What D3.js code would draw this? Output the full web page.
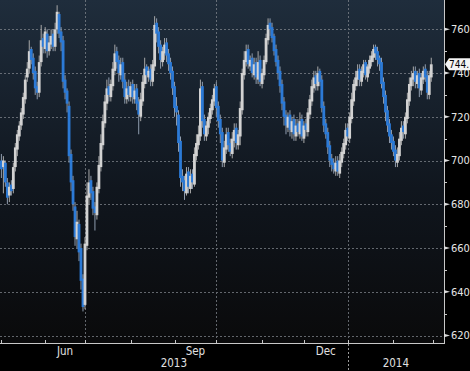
<!DOCTYPE html>
<html>
<head>
<meta charset="utf-8">
<script src="https://cdn.jsdelivr.net/npm/d3@7"></script>
<style>
  html, body { margin: 0; padding: 0; background: #000; }
  svg { display: block; }
  text { font-family: 'Liberation Sans Narrow', 'DejaVu Sans Condensed', 'Arial Narrow', sans-serif; }
</style>
</head>
<body>
<script>
// daily OHLC, one value per trading day (May 2 2013 .. Feb 28 2014)
var opens = [
  700, 697, 699, 690, 684, 689, 687, 697, 705, 711,
  716, 721, 728, 738, 742, 751, 747, 741, 734, 731,
  745, 756, 751, 758, 750, 753, 758, 752, 760, 767,
  759, 755, 737, 732, 725, 703, 691, 679, 664, 671,
  660, 646, 634, 661, 683, 691, 686, 679, 675, 687,
  697, 707, 717, 726, 734, 729, 734, 741, 750, 746,
  739, 745, 737, 728, 734, 729, 735, 728, 733, 727,
  720, 727, 735, 743, 738, 742, 736, 743, 763, 759,
  753, 745, 749, 754, 749, 745, 741, 734, 725, 721,
  709, 693, 691, 685, 695, 687, 694, 689, 702, 707,
  711, 734, 719, 711, 715, 719, 723, 727, 734, 725,
  719, 713, 699, 705, 713, 708, 703, 709, 715, 707,
  711, 723, 739, 745, 751, 743, 747, 739, 745, 737,
  746, 735, 739, 745, 755, 763, 761, 757, 751, 746,
  741, 735, 727, 721, 715, 721, 713, 719, 711, 717,
  712, 719, 710, 717, 713, 721, 727, 733, 739, 734,
  741, 737, 725, 717, 713, 707, 701, 699, 695, 700,
  694, 699, 703, 707, 715, 710, 719, 727, 734, 737,
  742, 736, 740, 745, 738, 742, 745, 747, 752, 750,
  747, 745, 736, 730, 723, 717, 712, 709, 705, 699,
  702, 709, 716, 712, 719, 727, 734, 737, 741, 735,
  740, 732, 737, 742, 739, 730, 738
];
var highs = [
  703, 702, 700, 692, 690, 691, 699, 708, 714, 718,
  724, 731, 739, 745, 755, 752, 749, 743, 736, 748,
  762, 758, 761, 760, 757, 760, 760, 763, 771, 768,
  761, 757, 739, 733, 727, 705, 693, 681, 677, 673,
  662, 648, 665, 690, 696, 693, 688, 681, 690, 702,
  712, 721, 730, 737, 738, 737, 745, 753, 752, 748,
  747, 747, 740, 736, 737, 736, 737, 735, 735, 729,
  731, 739, 747, 744, 743, 744, 746, 766, 765, 761,
  755, 752, 756, 756, 751, 747, 743, 736, 729, 723,
  711, 696, 693, 697, 697, 696, 696, 706, 712, 716,
  737, 736, 721, 718, 722, 726, 730, 735, 736, 727,
  721, 715, 709, 715, 715, 710, 713, 717, 717, 714,
  727, 742, 750, 753, 753, 748, 749, 747, 747, 750,
  748, 742, 748, 758, 765, 765, 763, 758, 753, 748,
  743, 737, 729, 723, 722, 723, 720, 721, 719, 719,
  722, 721, 718, 719, 724, 730, 737, 741, 741, 743,
  742, 739, 727, 719, 715, 709, 703, 701, 702, 702,
  703, 706, 710, 717, 717, 722, 731, 737, 741, 744,
  744, 743, 746, 746, 744, 748, 750, 753, 753, 752,
  748, 747, 738, 732, 725, 719, 714, 711, 707, 706,
  713, 718, 718, 722, 731, 738, 741, 743, 743, 741,
  742, 740, 743, 744, 741, 741, 747
];
var lows = [
  692, 685, 688, 680, 681, 684, 685, 695, 702, 709,
  714, 719, 726, 736, 740, 744, 737, 730, 728, 729,
  743, 749, 749, 747, 748, 751, 750, 750, 758, 756,
  750, 733, 728, 722, 699, 686, 677, 661, 660, 654,
  641, 631, 632, 659, 680, 682, 675, 668, 673, 685,
  695, 705, 715, 723, 727, 727, 732, 739, 742, 736,
  737, 733, 726, 726, 727, 727, 726, 726, 723, 712,
  718, 725, 733, 735, 736, 734, 734, 741, 754, 749,
  742, 743, 746, 745, 741, 737, 730, 720, 716, 704,
  688, 686, 682, 684, 685, 685, 687, 688, 700, 705,
  709, 715, 709, 709, 712, 717, 721, 725, 720, 715,
  708, 697, 697, 703, 704, 702, 701, 706, 705, 705,
  707, 721, 737, 743, 742, 741, 738, 737, 735, 735,
  734, 733, 737, 744, 753, 757, 754, 748, 743, 737,
  731, 723, 716, 712, 713, 711, 710, 709, 709, 711,
  710, 709, 708, 711, 711, 719, 725, 731, 732, 732,
  734, 722, 713, 710, 703, 697, 695, 694, 693, 693,
  692, 697, 701, 705, 709, 708, 717, 725, 732, 734,
  734, 734, 738, 737, 736, 740, 743, 745, 746, 743,
  741, 733, 726, 718, 713, 708, 705, 702, 697, 697,
  700, 707, 710, 710, 717, 725, 732, 734, 733, 733,
  729, 730, 735, 736, 728, 728, 736
];
var closes = [
  696, 700, 690, 683, 688, 686, 697, 706, 712, 716,
  722, 729, 737, 742, 750, 746, 740, 733, 731, 745,
  755, 752, 759, 750, 754, 757, 752, 760, 768, 758,
  754, 736, 731, 726, 702, 690, 680, 665, 672, 658,
  645, 633, 662, 684, 690, 685, 678, 676, 688, 698,
  708, 718, 727, 733, 730, 735, 742, 749, 745, 740,
  744, 736, 729, 733, 730, 734, 729, 732, 726, 721,
  728, 736, 742, 739, 741, 737, 744, 762, 758, 752,
  746, 750, 753, 748, 744, 740, 733, 724, 722, 708,
  692, 690, 686, 694, 688, 693, 690, 703, 708, 712,
  733, 718, 712, 716, 720, 724, 728, 733, 724, 718,
  712, 700, 706, 712, 707, 704, 710, 714, 708, 712,
  724, 740, 746, 750, 744, 746, 740, 744, 738, 745,
  736, 740, 746, 756, 762, 760, 756, 750, 745, 740,
  734, 726, 720, 716, 720, 714, 718, 712, 716, 713,
  718, 711, 716, 714, 722, 728, 734, 738, 735, 740,
  736, 724, 716, 712, 706, 700, 698, 696, 699, 695,
  700, 704, 708, 714, 711, 720, 728, 735, 738, 741,
  737, 741, 744, 739, 743, 746, 748, 751, 749, 746,
  744, 735, 729, 722, 716, 711, 708, 704, 700, 703,
  710, 715, 713, 720, 728, 735, 738, 740, 736, 739,
  733, 738, 741, 738, 731, 739, 744
];
var yTicks = [620, 640, 660, 680, 700, 720, 740, 760];
var monthLabels = ['Jun', 'Sep', 'Dec'];
var yearLabels = ['2013', '2014'];

var width = 470;
var height = 371;
var plotW = 444;
var plotH = 343;

// trading days, weekdays only
var days = d3.timeDay.range(new Date(2013, 4, 2), new Date(2014, 2, 1))
    .filter(function (d) { return d.getDay() !== 0 && d.getDay() !== 6; });

var x = d3.scaleLinear().domain([-0.7, 222.4]).range([0, plotW]);
var y = d3.scaleLinear().domain([620, 760]).range([335.5, 29.3]);

// first trading day of each month
var monthStarts = [];
days.forEach(function (d, i) {
  if (i === 0 || d.getMonth() !== days[i - 1].getMonth()) {
    monthStarts.push({i: i, date: d});
  }
});
monthStarts.push({i: days.length, date: new Date(2014, 2, 3)});

var svg = d3.select('body').append('svg')
    .attr('width', width)
    .attr('height', height);

var defs = svg.append('defs');
var grad = defs.append('linearGradient')
    .attr('id', 'bg')
    .attr('x1', 0).attr('y1', 0).attr('x2', 0).attr('y2', 1);
grad.append('stop').attr('offset', '0%').attr('stop-color', '#1f2d3c');
grad.append('stop').attr('offset', '55%').attr('stop-color', '#10161e');
grad.append('stop').attr('offset', '100%').attr('stop-color', '#0a0a0b');

svg.append('rect')
    .attr('width', width)
    .attr('height', height)
    .attr('fill', '#000');

svg.append('rect')
    .attr('width', plotW)
    .attr('height', plotH)
    .attr('fill', 'url(#bg)');

// grid
var grid = svg.append('g')
    .attr('stroke', '#80858c')
    .attr('stroke-width', 1)
    .attr('stroke-dasharray', '2,2')
    .attr('opacity', 0.75);

grid.selectAll('line.h')
    .data(yTicks)
    .enter().append('line')
    .attr('x1', 0)
    .attr('x2', plotW)
    .attr('y1', function (d) { return Math.round(y(d)) + 0.5; })
    .attr('y2', function (d) { return Math.round(y(d)) + 0.5; });

var quarterStarts = monthStarts.filter(function (m) { return m.date.getMonth() % 3 === 0 && m.i > 0; });
grid.selectAll('line.v')
    .data(quarterStarts)
    .enter().append('line')
    .attr('x1', function (d) { return Math.round(x(d.i)) + 0.5; })
    .attr('x2', function (d) { return Math.round(x(d.i)) + 0.5; })
    .attr('y1', 0)
    .attr('y2', plotH);

// candles
var candles = svg.append('g')
    .selectAll('g')
    .data(days)
    .enter().append('g');

candles.append('line')
    .attr('x1', function (d, i) { return x(i); })
    .attr('x2', function (d, i) { return x(i); })
    .attr('y1', function (d, i) { return y(highs[i]); })
    .attr('y2', function (d, i) { return y(lows[i]); })
    .attr('stroke', function (d, i) { return closes[i] >= opens[i] ? '#a8a8a8' : '#8f9cae'; })
    .attr('stroke-width', 1);

candles.append('rect')
    .attr('x', function (d, i) { return x(i) - 1.4; })
    .attr('width', 2.8)
    .attr('y', function (d, i) { return y(Math.max(opens[i], closes[i])); })
    .attr('height', function (d, i) { return Math.max(1, Math.abs(y(opens[i]) - y(closes[i]))); })
    .attr('fill', function (d, i) { return closes[i] >= opens[i] ? '#d2d2d2' : '#2c7ad6'; });

// axes
svg.append('line')
    .attr('x1', plotW + 0.5).attr('x2', plotW + 0.5)
    .attr('y1', 0).attr('y2', plotH + 1)
    .attr('stroke', '#c8c8c8');

svg.append('line')
    .attr('x1', 0).attr('x2', plotW + 1)
    .attr('y1', plotH + 0.5).attr('y2', plotH + 0.5)
    .attr('stroke', '#c8c8c8');

// right axis ticks
var minorTicks = d3.range(630, 770, 20);
svg.append('g').selectAll('line')
    .data(minorTicks)
    .enter().append('line')
    .attr('x1', plotW)
    .attr('x2', plotW + 3)
    .attr('y1', function (d) { return Math.round(y(d)) + 0.5; })
    .attr('y2', function (d) { return Math.round(y(d)) + 0.5; })
    .attr('stroke', '#c8c8c8');

var yAxis = svg.append('g').selectAll('g')
    .data(yTicks)
    .enter().append('g')
    .attr('transform', function (d) { return 'translate(' + plotW + ',' + y(d) + ')'; });

yAxis.append('path')
    .attr('d', 'M0,-1.8L6,0L0,1.8Z')
    .attr('fill', '#dcdcdc');

yAxis.append('text')
    .attr('x', 7)
    .attr('dy', '0.36em')
    .attr('fill', '#e6e6e6')
    .attr('font-size', 11)
    .text(function (d) { return d; });

// bottom axis ticks
svg.append('g').selectAll('line')
    .data(monthStarts)
    .enter().append('line')
    .attr('x1', function (d) { return Math.round(x(d.i)) + 0.5; })
    .attr('x2', function (d) { return Math.round(x(d.i)) + 0.5; })
    .attr('y1', plotH - 3)
    .attr('y2', plotH)
    .attr('stroke', '#c8c8c8');

var fmtMonth = d3.timeFormat('%b');
var labelled = [];
monthStarts.forEach(function (m, k) {
  if (k < monthStarts.length - 1 && monthLabels.indexOf(fmtMonth(m.date)) >= 0) {
    labelled.push({name: fmtMonth(m.date), mid: (x(m.i) + x(monthStarts[k + 1].i)) / 2});
  }
});

svg.append('g').selectAll('text')
    .data(labelled)
    .enter().append('text')
    .attr('x', function (d) { return d.mid; })
    .attr('y', 355)
    .attr('text-anchor', 'middle')
    .attr('fill', '#e0e0e0')
    .attr('font-size', 11.5)
    .text(function (d) { return d.name; });

// year row
var janStart = monthStarts.filter(function (m) { return m.date.getMonth() === 0; })[0];
var yearSpans = [[0, x(janStart.i)], [x(janStart.i), plotW]];

svg.append('line')
    .attr('x1', Math.round(x(janStart.i)) + 0.5)
    .attr('x2', Math.round(x(janStart.i)) + 0.5)
    .attr('y1', plotH + 1)
    .attr('y2', height)
    .attr('stroke', '#9a9a9a')
    .attr('stroke-dasharray', '2,2');

svg.append('g').selectAll('text')
    .data(yearLabels)
    .enter().append('text')
    .attr('x', function (d, i) { return (yearSpans[i][0] + yearSpans[i][1]) / 2; })
    .attr('y', 367)
    .attr('text-anchor', 'middle')
    .attr('fill', '#e0e0e0')
    .attr('font-size', 11.5)
    .text(function (d) { return d; });

// last price tag
var last = closes[closes.length - 1];
var tag = svg.append('g')
    .attr('transform', 'translate(' + (plotW + 1) + ',' + y(last) + ')');

tag.append('path')
    .attr('d', 'M0,0L4,-6H30V6H4Z')
    .attr('fill', '#f4f4f4');

tag.append('text')
    .attr('x', 4)
    .attr('dy', '0.36em')
    .attr('fill', '#000')
    .attr('font-size', 10)
    .text(d3.format('.0f')(last) + '.');
</script>
</body>
</html>
